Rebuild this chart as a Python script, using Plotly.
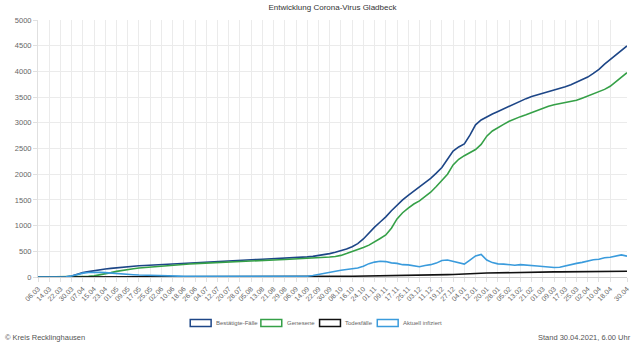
import pandas as pd
import plotly.graph_objects as go

start_date = "2020-03-06"
end_date = "2021-04-30"
sample_step_days = 4
tick_step_days = 8

bestaetigte = [
    0, 0, 0, 0, 0, 2, 20, 55, 85, 105, 125, 140, 155, 168, 180, 195,
    210, 215, 220, 225, 230, 236, 242, 248, 255, 262, 270, 278, 285, 288,
    292, 295, 298, 302, 308, 315, 322, 328, 335, 340, 346, 350, 355, 360,
    365, 370, 378, 385, 392, 402, 415, 435, 455, 480, 510, 545, 590, 650,
    740, 860, 970, 1070, 1170, 1290, 1400, 1500, 1590, 1670, 1745, 1825,
    1920, 2020, 2130, 2290, 2450, 2530, 2590, 2760, 2960, 3055, 3120, 3170,
    3220, 3270, 3330, 3380, 3420, 3470, 3510, 3540, 3575, 3610, 3630, 3660,
    3700, 3740, 3790, 3840, 3890, 3960, 4040, 4140, 4230, 4330, 4420, 4495,
]

genesene = [
    0, 0, 0, 0, 0, 0, 0, 0, 5, 12, 22, 40, 60, 85, 110, 130,
    150, 162, 175, 185, 195, 202, 208, 215, 225, 235, 245, 253, 260, 266,
    272, 278, 282, 286, 292, 298, 303, 308, 313, 318, 323, 328, 332, 336,
    340, 345, 352, 358, 364, 370, 375, 378, 388, 400, 420, 455, 490, 530,
    575, 620, 680, 750, 817, 950, 1130, 1250, 1340, 1420, 1480, 1560,
    1650, 1760, 1870, 2000, 2180, 2290, 2360, 2420, 2480, 2580, 2740, 2840,
    2910, 2970, 3030, 3080, 3120, 3155, 3200, 3240, 3285, 3320, 3350, 3370,
    3390, 3410, 3440, 3480, 3525, 3565, 3600, 3650, 3710, 3800, 3890, 3976,
]

todesfaelle = [
    0, 0, 0, 0, 0, 0, 0, 1, 2, 3, 4, 5, 6, 7, 8, 8,
    9, 9, 9, 9, 9, 9, 9, 9, 9, 10, 10, 10, 10, 10,
    10, 10, 10, 10, 10, 10, 10, 10, 10, 10, 10, 10, 10, 10,
    10, 10, 10, 10, 10, 10, 11, 11, 12, 12, 13, 14, 15, 16,
    17, 18, 20, 22, 24, 26, 28, 30, 32, 34, 36, 38,
    40, 42, 44, 46, 48, 50, 53, 58, 65, 72, 77, 80,
    83, 86, 88, 90, 92, 94, 95, 96, 97, 98, 99, 100,
    101, 102, 103, 104, 105, 106, 107, 108, 109, 110, 111, 112,
]

aktuell = [
    0, 0, 0, 0, 0, 2, 20, 52, 75, 88, 95, 92, 85, 75, 62, 56,
    50, 45, 38, 33, 28, 25, 24, 23, 20, 17, 15, 15, 14, 12,
    10, 8, 7, 7, 7, 8, 8, 9, 10, 9, 10, 9, 10, 11,
    11, 12, 14, 14, 15, 30, 50, 75, 100, 115, 130, 145, 160, 175,
    210, 260, 290, 305, 300, 275, 265, 240, 235, 215, 200, 225,
    240, 270, 320, 330, 300, 265, 250, 330, 410, 440, 330, 280,
    255, 250, 235, 230, 240, 235, 225, 215, 205, 195, 185, 190,
    220, 250, 265, 285, 310, 335, 345, 375, 385, 410, 430, 405,
]

series_names = ["Bestätigte-Fälle", "Genesene", "Todesfälle", "Aktuell infiziert"]
series_values = [bestaetigte, genesene, todesfaelle, aktuell]
series_colors = ["#1d4687", "#35a047", "#111111", "#3a9bdc"]

title_text = "Entwicklung Corona-Virus Gladbeck"
source_text = "© Kreis Recklinghausen"
stand_text = "Stand 30.04.2021, 6.00 Uhr"

# ---- build axes ----
dates = pd.date_range(start_date, periods=len(bestaetigte), freq=f"{sample_step_days}D")
tick_dates = list(pd.date_range(start_date, end_date, freq=f"{tick_step_days}D"))
end_ts = pd.Timestamp(end_date)
if tick_dates[-1] != end_ts:
    # the last regular label is skipped when it would crowd the final one
    if (end_ts - tick_dates[-1]).days < tick_step_days:
        tick_dates = tick_dates[:-1]
    tick_dates.append(end_ts)
tick_text = [d.strftime("%d.%m") for d in tick_dates]

font_family = "Liberation Sans, Arial, sans-serif"

W, H = 640, 350
ML, MR, MT, MB = 38, 10, 20, 73
PW, PH = W - ML - MR, H - MT - MB


def px_x(px):
    return (px - ML) / PW


def px_y(py):
    return (H - MB - py) / PH


fig = go.Figure()
for name, vals, col in zip(series_names, series_values, series_colors):
    fig.add_trace(go.Scatter(
        x=dates, y=vals, name=name, mode="lines",
        line=dict(color=col, width=1.6), showlegend=False,
    ))

fig.update_layout(
    width=W, height=H,
    margin=dict(l=ML, r=MR, t=MT, b=MB),
    paper_bgcolor="white", plot_bgcolor="white",
    font=dict(family=font_family, size=8, color="#666666"),
    title=dict(text=title_text, x=0.5, xref="paper", y=0.988, yanchor="top",
               font=dict(family=font_family, size=8, color="#333333")),
    showlegend=False,
)

fig.update_xaxes(
    type="date",
    range=[dates[0], dates[-1]],
    tickmode="array", tickvals=tick_dates, ticktext=tick_text,
    tickangle=-45, tickfont=dict(size=7, color="#666666"),
    showgrid=True, gridcolor="#ebebeb", gridwidth=1,
    ticks="outside", ticklen=4, tickcolor="#e0e0e0",
    showline=True, linecolor="#cfcfcf", linewidth=1,
    zeroline=False,
)
fig.update_yaxes(
    range=[0, 5000], dtick=500, tick0=0,
    tickfont=dict(size=7.5, color="#666666"),
    showgrid=True, gridcolor="#ebebeb", gridwidth=1,
    ticks="outside", ticklen=4, tickcolor="#e0e0e0",
    showline=True, linecolor="#e0e0e0", linewidth=1,
    zeroline=False,
)

# legend drawn as outlined boxes (Chart.js style)
legend_box_left = [191, 262, 321, 379]
box_w, box_top, box_bot, text_yc = 21, 319.5, 326.5, 323
for name, col, bx in zip(series_names, series_colors, legend_box_left):
    fig.add_shape(type="rect", xref="paper", yref="paper",
                  x0=px_x(bx), x1=px_x(bx + box_w), y0=px_y(box_bot), y1=px_y(box_top),
                  line=dict(color=col, width=1.5), fillcolor="rgba(0,0,0,0)")
    fig.add_annotation(text=name, xref="paper", yref="paper",
                       x=px_x(bx + box_w + 3), y=px_y(text_yc),
                       xanchor="left", yanchor="middle", showarrow=False,
                       font=dict(size=6, color="#666666"))

fig.add_annotation(text=source_text, xref="paper", yref="paper",
                   x=px_x(3), y=px_y(337), xanchor="left", yanchor="middle",
                   showarrow=False, font=dict(size=7.5, color="#555555"))
fig.add_annotation(text=stand_text, xref="paper", yref="paper",
                   x=px_x(636), y=px_y(337), xanchor="right", yanchor="middle",
                   showarrow=False, font=dict(size=7.5, color="#555555"))

fig.write_html("out.html")
